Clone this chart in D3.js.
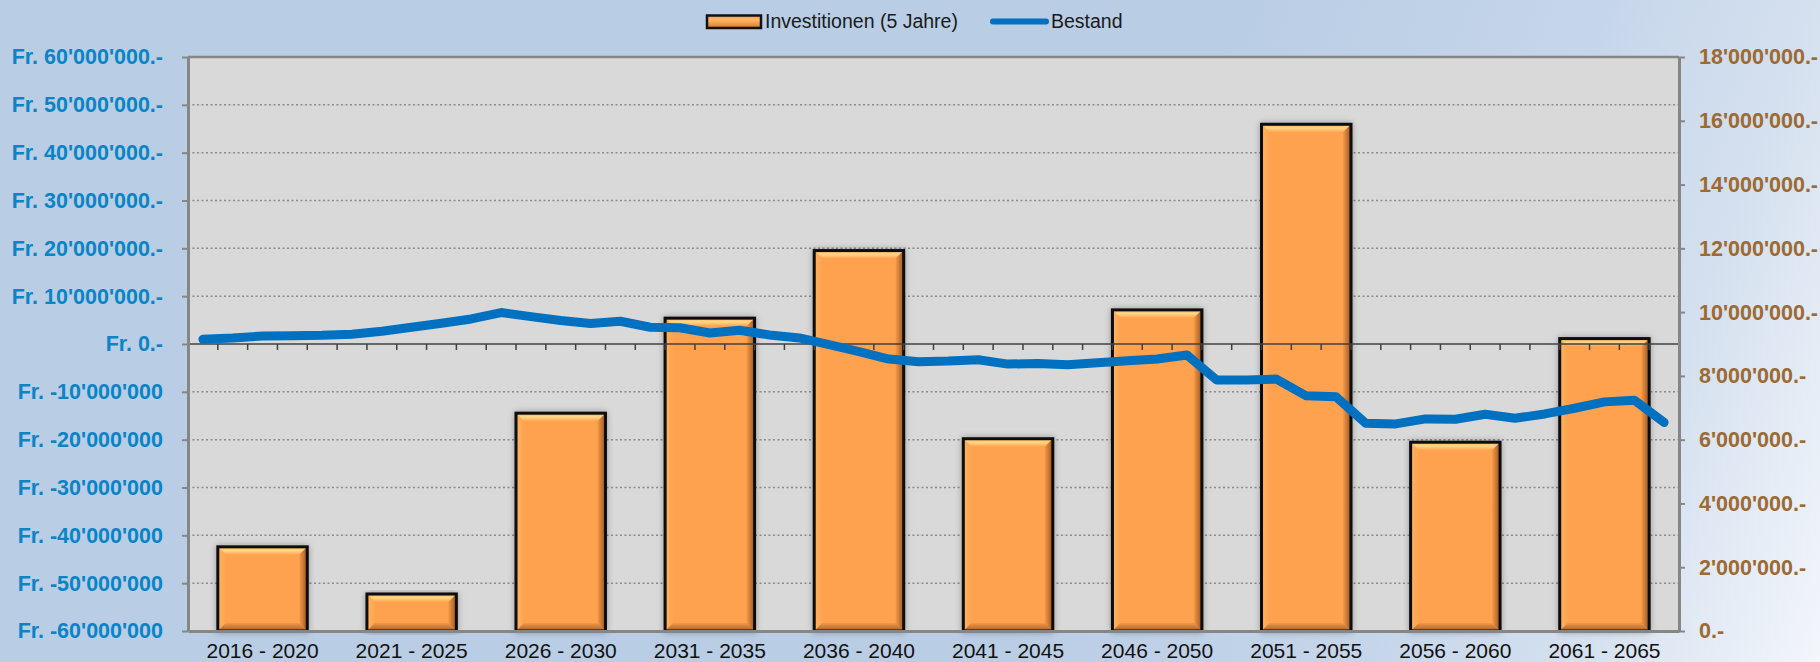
<!DOCTYPE html>
<html>
<head>
<meta charset="utf-8">
<script src="https://cdn.jsdelivr.net/npm/d3@7"></script>
<style>
    body { margin: 0; }
    svg { display: block; font-family: "Liberation Sans", Arial, sans-serif; }
</style>
</head>
<body>
<div id="chart"></div>
<script>
// 5-year investment blocks (right axis, Fr.)
const periods = ['2016 - 2020', '2021 - 2025', '2026 - 2030', '2031 - 2035', '2036 - 2040',
    '2041 - 2045', '2046 - 2050', '2051 - 2055', '2056 - 2060', '2061 - 2065'];
const investitionen = [2640000, 1160000, 6830000, 9810000, 11930000,
    6030000, 10070000, 15890000, 5920000, 9170000];

// yearly stock (left axis, Fr.)
const years = d3.range(2016, 2066);
const bestand = [
    980000, 1260000, 1680000, 1750000, 1820000, 2030000, 2660000, 3500000, 4340000, 5240000,
    6570000, 5730000, 4900000, 4270000, 4760000, 3500000, 3400000, 2310000, 2870000, 1890000,
    1260000, -140000, -1610000, -3150000, -3710000, -3570000, -3290000, -4200000, -4060000, -4340000,
    -3920000, -3500000, -3150000, -2300000, -7550000, -7550000, -7340000, -10840000, -11050000, -16570000,
    -16710000, -15660000, -15730000, -14690000, -15520000, -14620000, -13430000, -12100000, -11750000, -16400000
];

const leftTicks = [60e6, 50e6, 40e6, 30e6, 20e6, 10e6, 0, -10e6, -20e6, -30e6, -40e6, -50e6, -60e6];
const leftTickLabels = ["Fr. 60'000'000.-", "Fr. 50'000'000.-", "Fr. 40'000'000.-", "Fr. 30'000'000.-",
    "Fr. 20'000'000.-", "Fr. 10'000'000.-", "Fr. 0.-", "Fr. -10'000'000", "Fr. -20'000'000",
    "Fr. -30'000'000", "Fr. -40'000'000", "Fr. -50'000'000", "Fr. -60'000'000"];
const rightTicks = [18e6, 16e6, 14e6, 12e6, 10e6, 8e6, 6e6, 4e6, 2e6, 0];
const rightTickLabels = ["18'000'000.-", "16'000'000.-", "14'000'000.-", "12'000'000.-", "10'000'000.-",
    "8'000'000.-", "6'000'000.-", "4'000'000.-", "2'000'000.-", "0.-"];

const width = 1820, height = 662;
const margin = {top: 57, right: 141, bottom: 31, left: 188};
const plotW = width - margin.left - margin.right;
const plotH = height - margin.top - margin.bottom;

const svg = d3.select('#chart').append('svg')
    .attr('width', width)
    .attr('height', height);

const defs = svg.append('defs');

const bg = defs.append('linearGradient').attr('id', 'bg')
    .attr('gradientUnits', 'userSpaceOnUse')
    .attr('x1', 0).attr('y1', 0).attr('x2', width).attr('y2', height);
[[0, '#b9cde5'], [0.6, '#b9cde5'], [0.78, '#c6d6ea'], [0.88, '#d4e0ef'], [1, '#f3f6fb']]
    .forEach(s => bg.append('stop').attr('offset', s[0]).attr('stop-color', s[1]));

function grad(id, x2, y2, stops) {
    const g = defs.append('linearGradient').attr('id', id)
        .attr('x1', 0).attr('y1', 0).attr('x2', x2).attr('y2', y2);
    stops.forEach(s => g.append('stop').attr('offset', s[0]).attr('stop-color', s[1]));
}
grad('bevTop', 0, 1, [[0, '#ffae4c'], [0.45, '#ffd88c'], [1, '#ffa44e']]);
grad('bevRight', 1, 0, [[0, '#f59a48'], [1, '#9c5420']]);
grad('bevBottom', 0, 1, [[0, '#f29846'], [1, '#a85e26']]);
grad('bevLeft', 1, 0, [[0, '#ffb462'], [1, '#ffa34f']]);
grad('legSwatch', 0, 1, [[0, '#f6a050'], [0.35, '#ffb866'], [1, '#d8782c']]);

const shadow = defs.append('filter').attr('id', 'shadow')
    .attr('x', '-10%').attr('y', '-10%').attr('width', '120%').attr('height', '120%');
shadow.append('feDropShadow')
    .attr('dx', 0).attr('dy', 0).attr('stdDeviation', 3)
    .attr('flood-color', '#000').attr('flood-opacity', 0.3);

svg.append('rect')
    .attr('width', width).attr('height', height)
    .attr('fill', 'url(#bg)');

const g = svg.append('g')
    .attr('transform', 'translate(' + margin.left + ',' + margin.top + ')');

// scales
const yLeft = d3.scaleLinear().domain([-60e6, 60e6]).range([plotH, 0]);
const yRight = d3.scaleLinear().domain([0, 18e6]).range([plotH, 0]);
const xPeriod = d3.scaleBand().domain(periods).range([0, plotW])
    .paddingInner(0.4).paddingOuter(0.2);
const xYear = d3.scaleBand().domain(years).range([0, plotW]);

g.append('rect')
    .attr('width', plotW).attr('height', plotH)
    .attr('fill', '#d9d9d9');

// dotted gridlines from the left axis
g.selectAll('.grid')
    .data(leftTicks.filter(v => v !== 0 && Math.abs(v) < 60e6))
    .enter().append('line')
    .attr('class', 'grid')
    .attr('x1', 0).attr('x2', plotW)
    .attr('y1', d => yLeft(d)).attr('y2', d => yLeft(d))
    .attr('stroke', '#8a8a8a')
    .attr('stroke-width', 1.5)
    .attr('stroke-dasharray', '2,2.5');

// top border
g.append('line')
    .attr('x1', 0).attr('x2', plotW).attr('y1', 0).attr('y2', 0)
    .attr('stroke', '#868686').attr('stroke-width', 2.5);

// bars with bevel
const bev = 8;
const bars = g.selectAll('.bar')
    .data(investitionen)
    .enter().append('g')
    .attr('class', 'bar')
    .attr('filter', 'url(#shadow)');

bars.each(function (d, i) {
    const x0 = xPeriod(periods[i]);
    const x1 = x0 + xPeriod.bandwidth();
    const y0 = yRight(d);
    const y1 = yRight(0);
    const b = Math.min(bev, (y1 - y0) / 2);
    const el = d3.select(this);
    el.append('rect')
        .attr('x', x0).attr('y', y0)
        .attr('width', x1 - x0).attr('height', y1 - y0)
        .attr('fill', '#ffa24f');
    const pts = {
        bevTop: [[x0, y0], [x1, y0], [x1 - b, y0 + b], [x0 + b, y0 + b]],
        bevLeft: [[x0, y0], [x0 + b, y0 + b], [x0 + b, y1 - b], [x0, y1]],
        bevBottom: [[x0, y1], [x0 + b, y1 - b], [x1 - b, y1 - b], [x1, y1]],
        bevRight: [[x1, y0], [x1, y1], [x1 - b, y1 - b], [x1 - b, y0 + b]]
    };
    Object.keys(pts).forEach(k => {
        el.append('polygon')
            .attr('points', pts[k].map(p => p.join(',')).join(' '))
            .attr('fill', 'url(#' + k + ')');
    });
    el.append('rect')
        .attr('x', x0).attr('y', y0)
        .attr('width', x1 - x0).attr('height', y1 - y0)
        .attr('fill', 'none')
        .attr('stroke', '#0d0d0d')
        .attr('stroke-width', 3);
});

// zero line with yearly ticks
g.append('line')
    .attr('x1', 0).attr('x2', plotW)
    .attr('y1', yLeft(0)).attr('y2', yLeft(0))
    .attr('stroke', '#404040').attr('stroke-width', 1.5);
g.selectAll('.ytick')
    .data(years.map(y => xYear(y)).concat([plotW]))
    .enter().append('line')
    .attr('class', 'ytick')
    .attr('x1', d => d).attr('x2', d => d)
    .attr('y1', yLeft(0)).attr('y2', yLeft(0) + 6)
    .attr('stroke', '#404040').attr('stroke-width', 1.5);

// Bestand line
const line = d3.line()
    .x((d, i) => xYear(years[i]) + xYear.bandwidth() / 2)
    .y(d => yLeft(d));

g.append('path')
    .datum(bestand)
    .attr('d', line)
    .attr('fill', 'none')
    .attr('stroke', '#0070c0')
    .attr('stroke-width', 9)
    .attr('stroke-linejoin', 'round')
    .attr('stroke-linecap', 'round');

// left axis
const axL = g.append('g')
    .call(d3.axisLeft(yLeft).tickValues(leftTicks)
        .tickFormat((d, i) => leftTickLabels[i])
        .tickSize(6).tickSizeOuter(0).tickPadding(19));
axL.select('.domain').attr('stroke', '#868686').attr('stroke-width', 3);
axL.selectAll('.tick line').attr('stroke', '#868686').attr('stroke-width', 2);
axL.selectAll('.tick text')
    .attr('fill', '#0a84c6')
    .style('font-size', '21.5px')
    .style('font-weight', 'bold');

// right axis
const axR = g.append('g')
    .attr('transform', 'translate(' + plotW + ',0)')
    .call(d3.axisRight(yRight).tickValues(rightTicks)
        .tickFormat((d, i) => rightTickLabels[i])
        .tickSize(6).tickSizeOuter(0).tickPadding(14));
axR.select('.domain').attr('stroke', '#868686').attr('stroke-width', 3);
axR.selectAll('.tick line').attr('stroke', '#868686').attr('stroke-width', 2);
axR.selectAll('.tick text')
    .attr('fill', '#9c6a32')
    .style('font-size', '21.5px')
    .style('font-weight', 'bold');

// bottom category axis
const axB = g.append('g')
    .attr('transform', 'translate(0,' + plotH + ')')
    .call(d3.axisBottom(xPeriod).tickSize(0).tickSizeOuter(0).tickPadding(12));
axB.select('.domain').attr('stroke', '#868686').attr('stroke-width', 3);
axB.selectAll('.tick text')
    .attr('fill', '#111')
    .style('font-size', '21px');

// legend
const leg = svg.append('g');
leg.append('rect')
    .attr('x', 707).attr('y', 15.5).attr('width', 54).attr('height', 12.5)
    .attr('fill', 'url(#legSwatch)')
    .attr('stroke', '#111').attr('stroke-width', 2.5);
leg.append('text')
    .attr('x', 765).attr('y', 28)
    .attr('fill', '#1a1a1a')
    .style('font-size', '19.5px')
    .text('Investitionen (5 Jahre)');
leg.append('line')
    .attr('x1', 993).attr('x2', 1046).attr('y1', 21.5).attr('y2', 21.5)
    .attr('stroke', '#0070c0').attr('stroke-width', 6)
    .attr('stroke-linecap', 'round');
leg.append('text')
    .attr('x', 1051).attr('y', 28)
    .attr('fill', '#1a1a1a')
    .style('font-size', '19.5px')
    .text('Bestand');
</script>
</body>
</html>
